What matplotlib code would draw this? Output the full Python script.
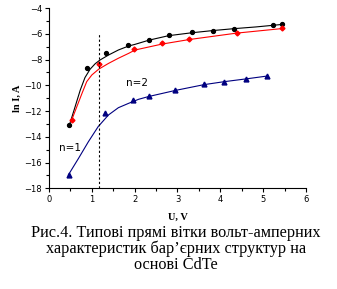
import numpy as np
import matplotlib.pyplot as plt

# measured points
u_black = [0.46, 0.88, 1.33, 1.85, 2.33, 2.79, 3.34, 3.83, 4.33, 5.22, 5.43]
ln_black = [-13.07, -8.64, -7.52, -6.90, -6.46, -6.12, -5.89, -5.76, -5.60, -5.30, -5.27]
u_red = [0.54, 1.16, 1.99, 2.64, 3.27, 4.38, 5.43]
ln_red = [-12.66, -8.35, -7.19, -6.75, -6.39, -5.92, -5.58]
u_blue = [0.46, 1.30, 1.96, 2.33, 2.95, 3.62, 4.09, 4.61, 5.10]
ln_blue = [-17.0, -12.12, -11.14, -10.86, -10.37, -9.92, -9.72, -9.49, -9.28]

# fitted curves
cu_black = [0.49, 0.61, 0.73, 0.84, 0.96, 1.08, 1.19, 1.39, 1.62, 1.86, 2.01,
            2.33, 2.79, 3.34, 3.83, 4.33, 4.83, 5.43]
cl_black = [-12.94, -11.66, -10.37, -9.4, -8.75, -8.32, -8.04, -7.65, -7.26, -6.95, -6.82,
            -6.5, -6.15, -5.92, -5.75, -5.6, -5.47, -5.28]
cu_red = [0.53, 0.65, 0.77, 0.88, 1.0, 1.16, 1.39, 1.62, 1.86, 2.01, 2.64, 3.27, 4.38, 5.43]
cl_red = [-12.7, -11.66, -10.63, -9.72, -9.2, -8.75, -8.3, -7.9, -7.52, -7.26,
          -6.8, -6.45, -5.95, -5.6]
cu_blue = [0.45, 0.69, 0.92, 1.15, 1.39, 1.62, 1.86, 2.09, 2.33, 2.95, 3.62, 4.09, 4.61, 5.10]
cl_blue = [-16.97, -15.67, -14.38, -13.2, -12.3, -11.74, -11.4, -11.09, -10.87,
           -10.4, -9.95, -9.72, -9.5, -9.28]

u_cut = 1.16
caption = "Рис.4. Типові прямі вітки вольт-амперних\nхарактеристик бар’єрних структур на\nоснові CdTe"

fig = plt.figure(figsize=(3.37, 2.89), dpi=100)
ax = fig.add_axes([0.1454, 0.3484, 0.7626, 0.6239])

ax.plot(cu_black, cl_black, color='black', lw=0.8)
ax.plot(cu_red, cl_red, color='red', lw=0.8)
ax.plot(cu_blue, cl_blue, color='#000080', lw=0.8)
ax.plot(u_black, ln_black, 'o', color='black', ms=2.8, ls='none')
ax.plot(u_red, ln_red, 'D', color='red', ms=2.5, ls='none')
ax.plot(u_blue, ln_blue, '^', color='#000080', ms=3.5, ls='none')
ax.plot([u_cut, u_cut], [-18, -6.05], color='black', lw=0.8, ls=(0, (2, 2)))

ax.text(1.8, -9.85, "n=2", fontsize=7.5, va='center')
ax.text(0.24, -14.85, "n=1", fontsize=7.5, va='center')

ax.set_xlim(0, 6)
ax.set_ylim(-18, -4)
ax.set_xticks(range(0, 7))
ax.set_xticks(np.arange(0.5, 6, 1), minor=True)
ax.set_yticks(range(-18, -3, 2))
ax.set_yticks(range(-17, -4, 2), minor=True)
for s in ['top', 'right']:
    ax.spines[s].set_visible(False)
for s in ['left', 'bottom']:
    ax.spines[s].set_linewidth(0.8)
ax.tick_params(which='major', direction='out', length=3, width=0.8, labelsize=6, pad=2)
ax.tick_params(which='minor', direction='out', length=2, width=0.8)

ax.set_xlabel("U, V", fontsize=7.5, fontweight='bold', family='Liberation Serif', labelpad=6)
ax.set_ylabel("ln I, A", fontsize=7.5, fontweight='bold', family='Liberation Serif', labelpad=2)

fig.text(0.522, 0.222, caption, ha='center', va='top', fontsize=11.7,
         family='Liberation Serif', linespacing=1.0)

fig.savefig('out.png', dpi=100)
